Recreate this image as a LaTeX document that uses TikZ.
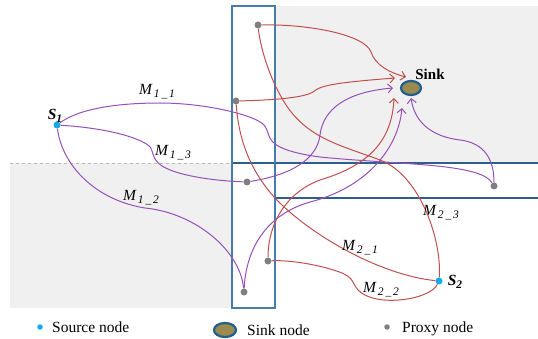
\documentclass[tikz,border=0pt]{standalone}
\usepackage{fontspec}
\setmainfont{Liberation Serif}
\usetikzlibrary{arrows.meta,shapes.geometric}
\definecolor{pur}{RGB}{150,80,185}
\definecolor{rd}{RGB}{192,80,77}
\definecolor{boxblue}{RGB}{70,125,170}
\definecolor{lineblue}{RGB}{45,95,140}
\definecolor{regfill}{RGB}{240,240,240}
\definecolor{sinkfill}{RGB}{155,138,80}
\definecolor{sinkborder}{RGB}{30,95,140}
\definecolor{srccol}{RGB}{20,170,235}
\definecolor{proxcol}{RGB}{128,128,128}
\newcommand{\mlab}[2]{{\fontsize{15.5}{15.5}\selectfont\itshape M\raisebox{-0.45ex}{\fontsize{11.5}{11.5}\selectfont\,#1\,\_\,#2}}}
\newcommand{\slab}[1]{{\fontsize{15.5}{15.5}\selectfont\bfseries\itshape S\raisebox{-0.45ex}{\fontsize{11.5}{11.5}\selectfont #1}}}
\pgfdeclarelayer{back}
\pgfdeclarelayer{mid}
\pgfsetlayers{back,mid,main}
\tikzset{
  proxy/.style={circle,fill=proxcol,draw=none,minimum size=7pt,inner sep=0pt},
  source/.style={circle,fill=srccol,draw=none,minimum size=7pt,inner sep=0pt},
  sinknode/.style={ellipse,fill=sinkfill,draw=sinkborder,line width=2.2pt,minimum width=20pt,minimum height=14pt,inner sep=0pt},
  pline/.style={draw=pur,line width=1pt},
  rline/.style={draw=rd,line width=1pt},
  arr/.style={-{Straight Barb[length=4.5pt,width=9pt]}},
  lbl/.style={inner sep=0pt},
  legtxt/.style={anchor=west,inner sep=0pt,font=\fontsize{15.5}{16}\selectfont},
  vbox/.style={draw=boxblue,line width=1.6pt},
  hline/.style={draw=lineblue,line width=1.1pt}
}
\begin{document}
\begin{tikzpicture}[x=1pt,y=-1pt]
\useasboundingbox (0,0) rectangle (538,339);
\begin{pgfonlayer}{back}
\fill[regfill] (276,6) rectangle (538,163);
\fill[regfill] (10,163) rectangle (232,308);
\draw[dashed,gray!55,line width=0.6pt] (10,163) -- (232,163);
\draw[hline] (232,163) -- (538,163);
\draw[hline] (275,198) -- (538,198);
\draw[vbox] (232,6) rectangle (275,308);
\end{pgfonlayer}

% nodes
\node[proxy] (P1) at (258,25) {};
\node[proxy] (P2) at (236,101) {};
\node[proxy] (P3) at (247,182) {};
\node[proxy] (P4) at (244,292) {};
\node[proxy] (P5) at (268,261) {};
\node[proxy] (P6) at (494,186) {};
\node[source] (S1) at (57,125) {};
\node[source] (S2) at (439,281) {};
\node[sinknode] (sink) at (411,88) {};
\coordinate (t1) at (406,77);
\coordinate (t2) at (395,78);
\coordinate (t3) at (393,88);
\coordinate (t4) at (402,108);
\coordinate (t5) at (394,98);
\coordinate (t6) at (411,98);

% labels
\node[lbl] (lS1) at (55,116) {\slab{1}};
\node[lbl] (lS2) at (455,282) {\slab{2}};
\node[lbl,font=\fontsize{15}{15}\selectfont\bfseries] (lsink) at (430,74) {Sink};
\node[lbl] (m11) at (157,92) {\mlab{1}{1}};
\node[lbl] (m13) at (173,153) {\mlab{1}{3}};
\node[lbl] (m12) at (141,198) {\mlab{1}{2}};
\node[lbl] (m21) at (360,248) {\mlab{2}{1}};
\node[lbl] (m22) at (381,290) {\mlab{2}{2}};
\node[lbl] (m23) at (441,213) {\mlab{2}{3}};

\begin{pgfonlayer}{mid}
% S1 paths
\draw[pline] (S1) .. controls (80,108) and (120,103) .. (160,103)
  .. controls (205,103) and (255,115) .. (264,125)
  .. controls (270,132) and (266,140) .. (280,147)
  .. controls (290,152) and (305,155) .. (320,157)
  .. controls (400,165) and (480,163) .. (P6);
\draw[pline,arr] (P6) .. controls (494,160) and (485,143) .. (460,140)
  .. controls (435,137) and (415,125) .. (t6);
\draw[pline] (S1) .. controls (90,127) and (130,133) .. (148,145)
  .. controls (155,150) and (150,158) .. (162,166)
  .. controls (180,177) and (220,181) .. (P3);
\draw[pline,arr] (P3) .. controls (290,175) and (317,160) .. (320,135)
  .. controls (323,110) and (345,92) .. (t3);
\draw[pline] (S1) .. controls (62,165) and (95,200) .. (145,208)
  .. controls (195,213) and (240,250) .. (P4);
\draw[pline,arr] (P4) .. controls (246,250) and (265,215) .. (310,202)
  .. controls (365,188) and (398,150) .. (t4);
% S2 paths
\draw[rline] (S2) .. controls (380,275) and (310,235) .. (275,198)
  .. controls (245,165) and (238,130) .. (P2);
\draw[rline,arr] (P2) .. controls (280,100) and (305,97) .. (313,92)
  .. controls (320,86) and (330,83) .. (t2);
\draw[rline] (S2) .. controls (430,300) and (375,308) .. (358,290)
  .. controls (350,280) and (355,276) .. (330,269)
  .. controls (310,263) and (285,260) .. (P5);
\draw[rline,arr] (P5) .. controls (268,225) and (285,193) .. (320,180)
  .. controls (370,165) and (392,140) .. (t5);
\draw[rline] (S2) .. controls (442,240) and (420,175) .. (380,160)
  .. controls (340,145) and (305,138) .. (283,100)
  .. controls (268,75) and (260,45) .. (P1);
\draw[rline,arr] (P1) .. controls (310,24) and (365,35) .. (371,52)
  .. controls (375,65) and (390,73) .. (t1);
\end{pgfonlayer}

% legend
\node[source,minimum size=5.5pt] (legsrc) at (40,327) {};
\node[legtxt] (legsrctxt) at (52,327) {Source node};
\node[sinknode,minimum width=22pt,minimum height=14pt] (legsink) at (225,330) {};
\node[legtxt] (legsinktxt) at (247,330) {Sink node};
\node[proxy,minimum size=5.5pt] (legprox) at (387,327) {};
\node[legtxt] (legproxtxt) at (402,329) {Proxy node};
\end{tikzpicture}
\end{document}
